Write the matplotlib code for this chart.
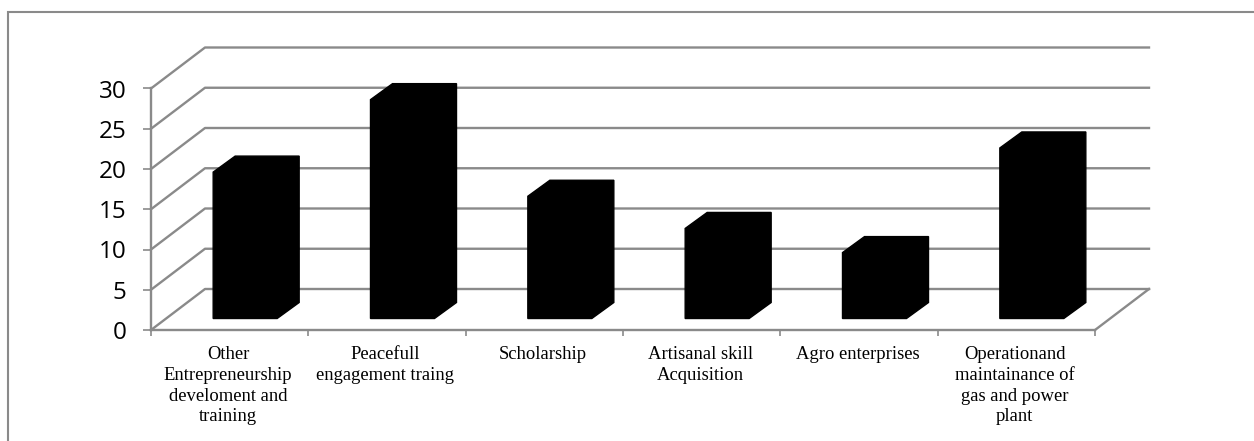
import matplotlib
matplotlib.use('Agg')
import matplotlib.pyplot as plt
from matplotlib.patches import Rectangle

categories = ['Other\nEntrepreneurship\ndeveloment and\ntraining',
              'Peacefull\nengagement traing',
              'Scholarship',
              'Artisanal skill\nAcquisition',
              'Agro enterprises',
              'Operationand\nmaintainance of\ngas and power\nplant']
values = [18, 27, 15, 11, 8, 21]
y_ticks = [0, 5, 10, 15, 20, 25, 30]

W, H = 1254, 441
grey = '#8a8a8a'
plt.rcParams['font.family'] = ['Open Sans', 'DejaVu Sans']

fig = plt.figure(figsize=(W/100, H/100), dpi=100)

# rahmen um das ganze bild
fig.add_artist(Rectangle((7.5/W, -0.1), 1.1, (H-12)/H + 0.1, transform=fig.transFigure,
                         fill=False, edgecolor=grey, linewidth=1.5))

# vordere flaeche der 3d box, pixel aus dem bild
left, right, top, bottom = 151, 1095, 88.5, 330
ax = fig.add_axes([left/W, 1-bottom/H, (right-left)/W, (bottom-top)/H])
ax.set_xlim(0, len(values))
ax.set_ylim(0, 30)
ax.patch.set_visible(False)

# tiefe der box in daten einheiten
px_x = len(values)/(right-left)
px_y = 30/(bottom-top)
depth_x, depth_y = 54*px_x, 41*px_y

# seitenwand und rueckwand
for t in y_ticks:
    ax.plot([0, depth_x, len(values)+depth_x], [t, t+depth_y, t+depth_y],
            color=grey, lw=1.7, clip_on=False, zorder=1, solid_joinstyle='round')
ax.plot([len(values), len(values)+depth_x], [0, depth_y], color=grey, lw=1.7, clip_on=False, zorder=1)

# saeulen als silhouette
bar_w = 64*px_x
shift_x, shift_y = 15.5*px_x, 11.5*px_y
top_extra = 1.5*px_y
bar_dx, bar_dy = 22*px_x, 16*px_y
for i, v in enumerate(values):
    x0 = i + 0.5 - bar_w/2 + shift_x
    x1 = x0 + bar_w
    y0 = shift_y
    y1 = shift_y + v + top_extra
    ax.fill([x0, x1, x1+bar_dx, x1+bar_dx, x0+bar_dx, x0],
            [y0, y0, y0+bar_dy, y1+bar_dy, y1+bar_dy, y1],
            color='black', lw=1, clip_on=False, zorder=3)

for name in ['top', 'right']:
    ax.spines[name].set_visible(False)
for name in ['left', 'bottom']:
    ax.spines[name].set_color(grey)
    ax.spines[name].set_linewidth(1.7)

ax.set_yticks(y_ticks)
ax.tick_params(axis='y', labelsize=17.5, length=5.8, width=1.2, color=grey, pad=12, labelcolor='black')
ax.set_xticks(range(len(values)+1))
ax.set_xticklabels([])
ax.tick_params(axis='x', length=4, width=1.2, color=grey)

for i, name in enumerate(categories):
    ax.text(i+0.5-1.5*px_x, -2.0, name, ha='center', va='top', family=['Liberation Serif'], fontsize=13.4,
            linespacing=1.29, color='black')

fig.savefig('out.png', dpi=100)
